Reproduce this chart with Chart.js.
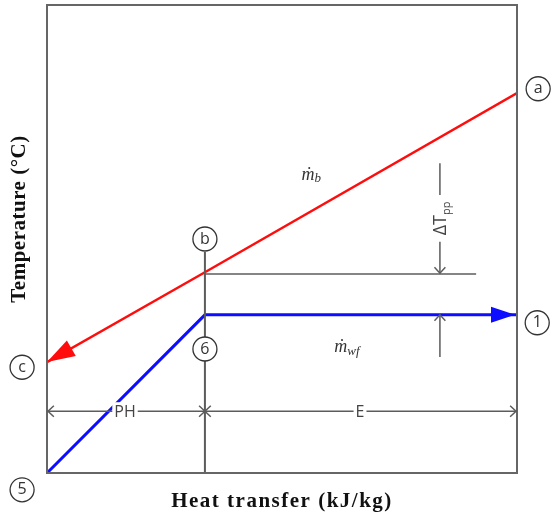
<!DOCTYPE html>
<html lang="en">
<head>
<meta charset="UTF-8">
<title>Temperature - heat transfer diagram</title>
<script src="https://cdn.jsdelivr.net/npm/chart.js"></script>
<style>
  body { margin: 0; background: #fff; }
  #wrap { width: 556px; height: 520px; }
</style>
</head>
<body>
<div id="wrap"><canvas id="tq"></canvas></div>
<script>
// heat source stream a -> b -> c
const hotQ = [100, 33.6, 0];
const hotT = [81.2, 42.9, 23.7];
// working fluid 5 -> 6 -> 1
const wfQ = [0, 33.6, 100];
const wfT = [0, 33.8, 33.8];
// pinch reference line and PH | E divider
const pinchQ = [33.6, 91.3];
const pinchT = [42.5, 42.5];
const splitQ = [33.6, 33.6];
const splitT = [47.2, 0];
// state point bubbles
const stateNames = ['a', 'b', 'c', '5', '6', '1'];
const stateQ = [104.5, 33.6, -5.3, -5.3, 33.6, 104.3];
const stateT = [82.1, 50.0, 22.6, -3.6, 26.5, 32.1];
// dimension line PH / E
const dimQ = [0, 33.6, 100];
const dimT = 13.2;
const dimNames = ['PH', 'E'];
const dimNameQ = [16.6, 66.6];
// delta T pinch marker: upper segment, text gap, lower segment
const ppQ = 83.6;
const ppUpperT = [66.2, 59.4, 49.4, 42.7];
const ppLowerT = [24.8, 33.8];
const ppTextT = 54.4;
// mass flow labels
const flowNames = ['b', 'wf'];
const flowQ = [56.2, 63.8];
const flowT = [63.7, 26.9];

const toPts = (xs, ys) => xs.map((x, i) => ({ x: x, y: ys[i] }));
const GREY = '#5c5c5c';

function filledHead(ctx, tx, ty, fx, fy, len, half, color) {
    const a = Math.atan2(ty - fy, tx - fx);
    ctx.save();
    ctx.fillStyle = color;
    ctx.beginPath();
    ctx.moveTo(tx, ty);
    ctx.lineTo(tx - len * Math.cos(a) + half * Math.sin(a), ty - len * Math.sin(a) - half * Math.cos(a));
    ctx.lineTo(tx - len * Math.cos(a) - half * Math.sin(a), ty - len * Math.sin(a) + half * Math.cos(a));
    ctx.closePath();
    ctx.fill();
    ctx.restore();
}

function openHead(ctx, tx, ty, a) {
    // a = direction the arrow points to
    const l = 8, s = 0.75;
    ctx.beginPath();
    ctx.moveTo(tx - l * Math.cos(a - s), ty - l * Math.sin(a - s));
    ctx.lineTo(tx, ty);
    ctx.lineTo(tx - l * Math.cos(a + s), ty - l * Math.sin(a + s));
    ctx.stroke();
}

const decor = {
    id: 'decor',
    afterDatasetsDraw(chart) {
        const ctx = chart.ctx;
        const X = v => chart.scales.x.getPixelForValue(v);
        const Y = v => chart.scales.y.getPixelForValue(v);
        const xs = chart.scales.x, ys = chart.scales.y;

        ctx.save();
        // frame
        ctx.strokeStyle = '#666';
        ctx.lineWidth = 2;
        ctx.strokeRect(X(xs.min), Y(ys.max), X(xs.max) - X(xs.min), Y(ys.min) - Y(ys.max));

        // arrow heads on the streams
        filledHead(ctx, X(hotQ[2]), Y(hotT[2]), X(hotQ[1]), Y(hotT[1]), 28, 9, '#ff0d0d');
        filledHead(ctx, X(wfQ[2]) - 2, Y(wfT[2]), X(wfQ[1]), Y(wfT[1]), 24, 8, '#0d0dff');

        // dimension line PH / E
        ctx.strokeStyle = GREY;
        ctx.lineWidth = 1.5;
        const dy = Y(dimT);
        ctx.beginPath();
        ctx.moveTo(X(dimQ[0]), dy);
        ctx.lineTo(X(dimQ[2]), dy);
        ctx.stroke();
        openHead(ctx, X(dimQ[0]) + 1, dy, Math.PI);
        openHead(ctx, X(dimQ[1]), dy, 0);
        openHead(ctx, X(dimQ[1]), dy, Math.PI);
        openHead(ctx, X(dimQ[2]) - 1, dy, 0);
        ctx.font = '16px "Open Sans", sans-serif';
        ctx.textAlign = 'center';
        ctx.textBaseline = 'middle';
        dimNames.forEach((n, i) => {
            const w = ctx.measureText(n).width + 4;
            ctx.fillStyle = '#fff';
            ctx.fillRect(X(dimNameQ[i]) - w / 2, dy - 9, w, 18);
            ctx.fillStyle = '#444';
            ctx.fillText(n, X(dimNameQ[i]), dy + 1);
        });

        // delta T pinch marker
        const px = X(ppQ);
        ctx.beginPath();
        ctx.moveTo(px, Y(ppUpperT[0]));
        ctx.lineTo(px, Y(ppUpperT[1]));
        ctx.moveTo(px, Y(ppUpperT[2]));
        ctx.lineTo(px, Y(ppUpperT[3]));
        ctx.moveTo(px, Y(ppLowerT[0]));
        ctx.lineTo(px, Y(ppLowerT[1]));
        ctx.stroke();
        openHead(ctx, px, Y(ppUpperT[3]), Math.PI / 2);
        openHead(ctx, px, Y(ppLowerT[1]), -Math.PI / 2);
        ctx.save();
        ctx.translate(px + 1, Y(ppTextT));
        ctx.rotate(-Math.PI / 2);
        ctx.fillStyle = '#444';
        ctx.textAlign = 'left';
        ctx.font = '18px "Open Sans", sans-serif';
        const wT = ctx.measureText('\u0394T').width;
        const sub = 11;
        ctx.font = sub + 'px "Open Sans", sans-serif';
        const wS = ctx.measureText('pp').width;
        const x0 = -(wT + wS) / 2;
        ctx.font = '18px "Open Sans", sans-serif';
        ctx.fillText('\u0394T', x0, 0);
        ctx.font = sub + 'px "Open Sans", sans-serif';
        ctx.fillText('pp', x0 + wT, 6);
        ctx.restore();

        // mass flow labels
        flowNames.forEach((n, i) => {
            const fx = X(flowQ[i]), fy = Y(flowT[i]);
            ctx.fillStyle = '#333';
            ctx.textAlign = 'left';
            ctx.font = 'italic 18px "Liberation Serif", serif';
            const wm = ctx.measureText('\u1E41').width;
            ctx.font = 'italic 13px "Liberation Serif", serif';
            const wn = ctx.measureText(n).width;
            const s = fx - (wm + wn) / 2;
            ctx.font = 'italic 18px "Liberation Serif", serif';
            ctx.fillText('\u1E41', s, fy);
            ctx.font = 'italic 13px "Liberation Serif", serif';
            ctx.fillText(n, s + wm, fy + 4);
        });

        // state bubbles
        ctx.font = '16px "Open Sans", sans-serif';
        ctx.textAlign = 'center';
        ctx.textBaseline = 'middle';
        stateNames.forEach((n, i) => {
            const cx = X(stateQ[i]), cy = Y(stateT[i]);
            ctx.beginPath();
            ctx.arc(cx, cy, 12, 0, Math.PI * 2);
            ctx.fillStyle = '#fff';
            ctx.fill();
            ctx.strokeStyle = '#333';
            ctx.lineWidth = 1.3;
            ctx.stroke();
            ctx.fillStyle = '#333';
            ctx.fillText(n, cx, cy);
        });

        // axis titles
        ctx.fillStyle = '#111';
        ctx.font = 'bold 21px "Liberation Serif", serif';
        ctx.letterSpacing = '1.5px';
        ctx.fillText('Heat transfer (kJ/kg)', (X(xs.min) + X(xs.max)) / 2, 502);
        ctx.letterSpacing = '0.5px';
        ctx.save();
        ctx.translate(20, 219);
        ctx.rotate(-Math.PI / 2);
        ctx.fillText('Temperature (\u00B0C)', 0, 0);
        ctx.restore();
        ctx.letterSpacing = '0px';
        ctx.restore();
    }
};

new Chart(document.getElementById('tq'), {
    type: 'scatter',
    data: {
        datasets: [
            { data: toPts(pinchQ, pinchT), showLine: true, borderColor: GREY, borderWidth: 1.5, pointRadius: 0 },
            { data: toPts(splitQ, splitT), showLine: true, borderColor: GREY, borderWidth: 2, pointRadius: 0 },
            { data: toPts(hotQ, hotT), showLine: true, borderColor: '#ff0d0d', borderWidth: 2.5, pointRadius: 0 },
            { data: toPts(wfQ, wfT), showLine: true, borderColor: '#0d0dff', borderWidth: 3, pointRadius: 0 }
        ]
    },
    options: {
        responsive: true,
        maintainAspectRatio: false,
        animation: false,
        layout: { padding: { left: 47, right: 39, top: 5, bottom: 47 } },
        plugins: { legend: { display: false }, tooltip: { enabled: false } },
        scales: {
            x: { type: 'linear', min: 0, max: 100, display: false },
            y: { type: 'linear', min: 0, max: 100, display: false }
        }
    },
    plugins: [decor]
});
</script>
</body>
</html>
